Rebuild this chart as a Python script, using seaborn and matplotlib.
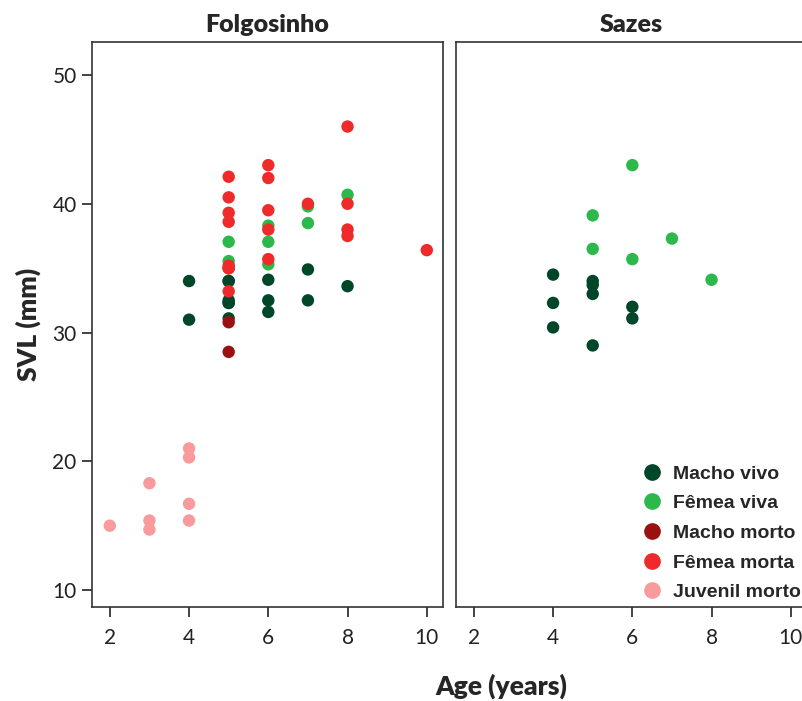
import pandas as pd
import seaborn as sns
import matplotlib.pyplot as plt
from matplotlib.lines import Line2D

# Folgosinho
folg_group = (["Macho vivo"] * 14 + ["Fêmea viva"] * 9 + ["Macho morto"] * 2
              + ["Fêmea morta"] * 19 + ["Juvenil morto"] * 8)
folg_age = [4, 4, 5, 5, 5, 5, 6, 6, 6, 7, 7, 8, 5, 5,
            5, 5, 6, 6, 6, 7, 7, 8, 5,
            5, 5,
            5, 5, 5, 5, 5, 5, 6, 6, 6, 6, 6, 7, 8, 8, 8, 8, 10, 5, 5,
            2, 3, 3, 3, 4, 4, 4, 4]
folg_svl = [34.0, 31.0, 34.0, 32.5, 32.3, 31.1, 34.1, 32.5, 31.6, 34.9, 32.5, 33.6, 32.3, 34.0,
            37.05, 35.55, 38.3, 37.05, 35.3, 39.8, 38.5, 40.7, 35.0,
            30.8, 28.5,
            42.1, 40.5, 39.3, 38.6, 35.2, 33.2, 43.0, 42.0, 39.5, 38.0, 35.7, 40.0, 46.0, 40.0, 38.0, 37.5, 36.4, 35.0, 35.0,
            15.0, 18.3, 15.4, 14.7, 21.0, 20.3, 16.7, 15.4]

# Sazes
saz_group = ["Macho vivo"] * 9 + ["Fêmea viva"] * 6
saz_age = [4, 4, 4, 5, 5, 5, 5, 6, 6,
           5, 5, 6, 6, 7, 8]
saz_svl = [34.5, 32.3, 30.4, 34.0, 33.7, 33.0, 29.0, 32.0, 31.1,
           39.1, 36.5, 43.0, 35.7, 37.3, 34.1]

groups = ["Macho vivo", "Fêmea viva", "Macho morto", "Fêmea morta", "Juvenil morto"]
colors = ["#00472a", "#2db84b", "#9b1010", "#ee2a2a", "#f99a9c"]
palette = dict(zip(groups, colors))

folg = pd.DataFrame({"Age": folg_age, "SVL": folg_svl, "Grupo": folg_group})
saz = pd.DataFrame({"Age": saz_age, "SVL": saz_svl, "Grupo": saz_group})

sns.set_style("white")
plt.rcParams["font.family"] = ["Lato", "DejaVu Sans"]
cond = ["Liberation Sans Narrow", "Liberation Sans", "DejaVu Sans"]

fig = plt.figure(figsize=(8.02, 7.01), dpi=100)
ax1 = fig.add_axes([0.1147, 0.134, 0.4377, 0.806])
ax2 = fig.add_axes([0.5686, 0.134, 0.4377, 0.806])

for ax, df, title in [(ax1, folg, "Folgosinho"), (ax2, saz, "Sazes")]:
    sns.scatterplot(data=df, x="Age", y="SVL", hue="Grupo", palette=palette,
                    hue_order=groups, s=80, linewidth=0, legend=False, ax=ax)
    ax.set_xlim(1.55, 10.41)
    ax.set_ylim(8.68, 52.56)
    ax.set_xticks([2, 4, 6, 8, 10])
    ax.set_title(title, fontsize=18, fontweight="heavy", pad=7)
    ax.set_xlabel("")
    ax.set_ylabel("")
    for sp in ax.spines.values():
        sp.set_color("#333333")
        sp.set_linewidth(1.2)
    ax.tick_params(axis="both", direction="out", length=7, width=1.2, labelsize=15,
                   colors="#222222", left=True, bottom=True, pad=4)
    ax.tick_params(axis="x", pad=8)

ax1.set_yticks([10, 20, 30, 40, 50])
ax2.set_yticks([])

fig.text(0.035, 0.537, "SVL (mm)", rotation=90, ha="center", va="center",
         fontsize=19, fontweight="heavy")
fig.text(0.625, 0.003, "Age (years)", ha="center", va="bottom",
         fontsize=19, fontweight="heavy")

handles = [Line2D([], [], marker="o", linestyle="", markersize=11, color=c, label=g)
           for g, c in zip(groups, colors)]
ax2.legend(handles=handles, loc="lower right", frameon=False, handletextpad=0.1,
           labelspacing=0.62, borderaxespad=0.0, borderpad=0.3,
           prop={"family": cond, "weight": "bold", "size": 14})

fig.savefig("out.png", dpi=100)
